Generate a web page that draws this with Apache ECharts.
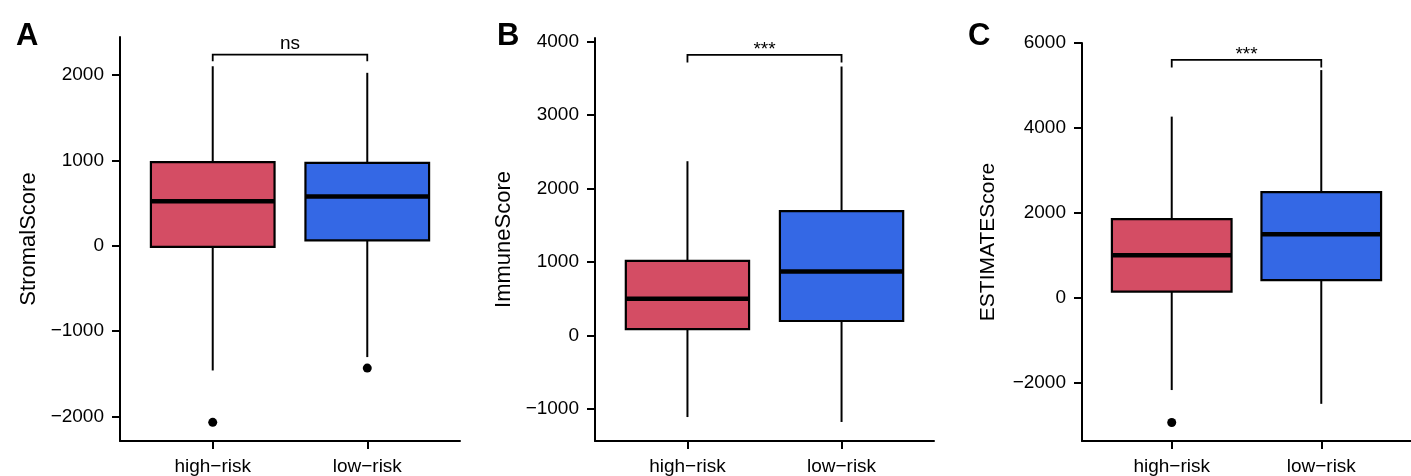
<!DOCTYPE html>
<html>
<head>
<meta charset="utf-8">
<script src="https://cdn.jsdelivr.net/npm/echarts@6/dist/echarts.min.js"></script>
<style>
html, body { margin: 0; padding: 0; background: #fff; }
#chart { width: 1411px; height: 476px; }
</style>
</head>
<body>
<div id="chart"></div>
<script>
// groups on the x axis
var categories = ['high-risk', 'low-risk'];

// box stats per group: [min whisker, Q1, median, Q3, max whisker]
var stromalBox = [[-1462, -12, 523, 982, 2105], [-1305, 63, 578, 971, 2028]];
var immuneBox = [[-1113, 85, 497, 1012, 2369], [-1180, 194, 868, 1691, 3658]];
var estimateBox = [[-2160, 155, 1012, 1861, 4269], [-2484, 426, 1505, 2493, 5363]];

// outliers: [group index (1-based), value]
var stromalOutliers = [[1, -2070], [2, -1434]];
var immuneOutliers = [];
var estimateOutliers = [[1, -2924]];

// significance brackets: [bar level, tip level, label]
var stromalSig = [2242, 2164, 'ns'];
var immuneSig = [3817, 3712, '***'];
var estimateSig = [5602, 5426, '***'];

// y tick labels
var stromalTicks = [-2000, -1000, 0, 1000, 2000];
var immuneTicks = [-1000, 0, 1000, 2000, 3000, 4000];
var estimateTicks = [-2000, 0, 2000, 4000, 6000];

var panels = [
    { letter: 'A', name: 'StromalScore', box: stromalBox, out: stromalOutliers, sig: stromalSig, ticks: stromalTicks,
      min: -2289, max: 2448, grid: { left: 120, top: 37, width: 340, height: 405 }, nameGap: 80, nameSize: 22, letterX: 11 },
    { letter: 'B', name: 'ImmuneScore', box: immuneBox, out: immuneOutliers, sig: immuneSig, ticks: immuneTicks,
      min: -1439, max: 4046, grid: { left: 595, top: 38, width: 339, height: 404 }, nameGap: 80, nameSize: 22, letterX: 492 },
    { letter: 'C', name: 'ESTIMATEScore', box: estimateBox, out: estimateOutliers, sig: estimateSig, ticks: estimateTicks,
      min: -3358, max: 6000, grid: { left: 1082, top: 43, width: 340, height: 405 }, nameGap: 83, nameSize: 21, letterX: 963 }
];

var fills = ['#D44D64', '#3468E5'];
var textColor = '#000';
var fontFam = '"Liberation Sans", Arial, sans-serif';

function minus(v) { return String(v).replace('-', '\u2212'); }

function renderBox(params, api) {
    var x = api.value(0);
    var half = 0.4;
    var lo = api.value(1), q1 = api.value(2), med = api.value(3), q3 = api.value(4), hi = api.value(5);
    var c = function (xx, yy) { return api.coord([xx, yy]); };
    var pHi = c(x, hi), pQ3 = c(x, q3), pQ1 = c(x, q1), pLo = c(x, lo);
    var tl = c(x - half, q3), br = c(x + half, q1);
    var ml = c(x - half, med), mr = c(x + half, med);
    var line = { stroke: '#000', lineWidth: 2 };
    return {
        type: 'group',
        children: [
            { type: 'line', shape: { x1: pHi[0], y1: pHi[1], x2: pQ3[0], y2: pQ3[1] }, style: line },
            { type: 'line', shape: { x1: pQ1[0], y1: pQ1[1], x2: pLo[0], y2: pLo[1] }, style: line },
            { type: 'rect', shape: { x: tl[0], y: tl[1], width: br[0] - tl[0], height: br[1] - tl[1] },
              style: { fill: fills[params.dataIndex], stroke: '#000', lineWidth: 2.2 } },
            { type: 'line', shape: { x1: ml[0], y1: ml[1], x2: mr[0], y2: mr[1] }, style: { stroke: '#000', lineWidth: 4.5 } }
        ]
    };
}

function renderSig(params, api, label) {
    var a = api.coord([1, api.value(1)]);
    var b = api.coord([1, api.value(0)]);
    var c2 = api.coord([2, api.value(0)]);
    var d = api.coord([2, api.value(1)]);
    // asterisks sit high in the em box, so anchor them by the top
    var stars = label.charAt(0) === '*';
    return {
        type: 'group',
        children: [
            { type: 'polyline', shape: { points: [a, b, c2, d] }, style: { stroke: '#000', lineWidth: 1.8, fill: null } },
            { type: 'text', x: (b[0] + c2[0]) / 2, y: stars ? b[1] - 15 : b[1] - 1.5,
              style: { text: label, textAlign: 'center', textVerticalAlign: stars ? 'top' : 'bottom',
                       fontSize: 19, fontFamily: fontFam, fill: textColor } }
        ]
    };
}

var option = {
    backgroundColor: '#fff',
    animation: false,
    title: [],
    grid: [],
    xAxis: [],
    yAxis: [],
    series: []
};

panels.forEach(function (p, i) {
    option.title.push({
        text: p.letter,
        left: p.letterX,
        top: 16,
        textStyle: { fontSize: 31, fontWeight: 'bold', color: '#000', fontFamily: fontFam }
    });
    option.grid.push(p.grid);
    option.xAxis.push({
        type: 'value',
        gridIndex: i,
        min: 0.4,
        max: 2.6,
        splitLine: { show: false },
        axisLine: { show: true, onZero: false, lineStyle: { color: '#000', width: 2 } },
        axisTick: { show: true, length: 8, customValues: [1, 2], lineStyle: { color: '#000', width: 2 } },
        axisLabel: {
            customValues: [1, 2],
            margin: 16,
            fontSize: 19,
            color: textColor,
            fontFamily: fontFam,
            formatter: function (v) { return minus(categories[Math.round(v) - 1]); }
        }
    });
    option.yAxis.push({
        type: 'value',
        gridIndex: i,
        min: p.min,
        max: p.max,
        name: p.name,
        nameLocation: 'middle',
        nameGap: p.nameGap,
        nameTextStyle: { fontSize: p.nameSize, color: textColor, fontFamily: fontFam },
        splitLine: { show: false },
        axisLine: { show: true, onZero: false, lineStyle: { color: '#000', width: 2 } },
        axisTick: { show: true, length: 8, customValues: p.ticks, lineStyle: { color: '#000', width: 2 } },
        axisLabel: {
            customValues: p.ticks,
            margin: 16,
            fontSize: 19,
            color: textColor,
            fontFamily: fontFam,
            formatter: function (v) { return minus(v); }
        }
    });
    option.series.push({
        type: 'custom',
        xAxisIndex: i,
        yAxisIndex: i,
        renderItem: renderBox,
        data: p.box.map(function (b, k) { return [k + 1].concat(b); }),
        z: 2
    });
    option.series.push({
        type: 'scatter',
        xAxisIndex: i,
        yAxisIndex: i,
        symbolSize: 9,
        itemStyle: { color: '#000', opacity: 1 },
        data: p.out,
        z: 3
    });
    option.series.push({
        type: 'custom',
        xAxisIndex: i,
        yAxisIndex: i,
        renderItem: function (params, api) {
            return renderSig(params, api, p.sig[2]);
        },
        data: [[p.sig[0], p.sig[1]]],
        clip: false,
        z: 3
    });
});

var myChart = echarts.init(document.getElementById('chart'));
myChart.setOption(option);
</script>
</body>
</html>
